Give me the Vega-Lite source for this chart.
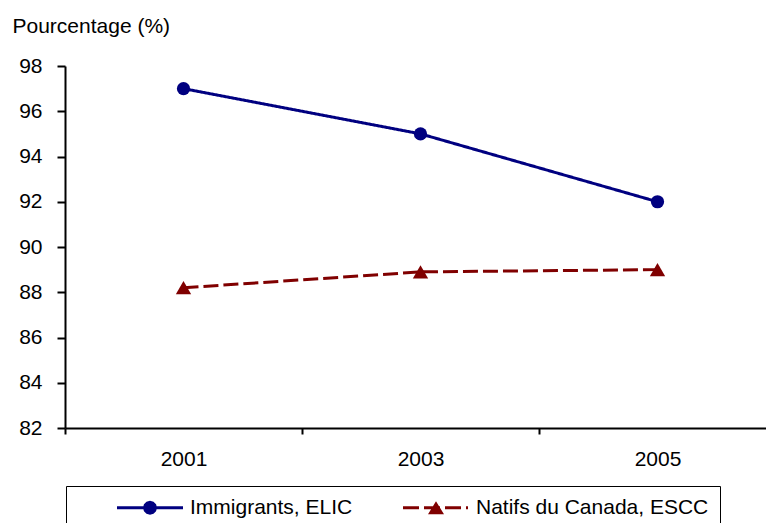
{
  "$schema": "https://vega.github.io/schema/vega-lite/v6.json",
  "width": 701,
  "height": 362,
  "autosize": {"type": "none"},
  "padding": {"left": 65, "top": 66, "right": 0, "bottom": 95},
  "background": "white",
  "config": {
    "view": {"stroke": null},
    "font": "Liberation Sans",
    "axis": {
      "domainColor": "black",
      "domainWidth": 2,
      "tickColor": "black",
      "tickWidth": 2,
      "grid": false,
      "labelFont": "Liberation Sans",
      "labelFontSize": 21,
      "labelColor": "black",
      "titleFont": "Liberation Sans",
      "titleFontSize": 21,
      "titleFontWeight": "normal",
      "titleColor": "black"
    }
  },
  "data": {
    "values": [
      {"year": "2001", "series": "Immigrants, ELIC", "pct": 97.0},
      {"year": "2003", "series": "Immigrants, ELIC", "pct": 95.0},
      {"year": "2005", "series": "Immigrants, ELIC", "pct": 92.0},
      {"year": "2001", "series": "Natifs du Canada, ESCC", "pct": 88.2},
      {"year": "2003", "series": "Natifs du Canada, ESCC", "pct": 88.9},
      {"year": "2005", "series": "Natifs du Canada, ESCC", "pct": 89.0}
    ]
  },
  "encoding": {
    "x": {
      "field": "year",
      "type": "ordinal",
      "scale": {"type": "band", "paddingInner": 0, "paddingOuter": 0, "range": [0, 711]},
      "axis": {
        "title": null,
        "labelAngle": 0,
        "tickBand": "extent",
        "tickSize": 6,
        "labelPadding": 14
      }
    },
    "y": {
      "field": "pct",
      "type": "quantitative",
      "scale": {"domain": [82, 98], "nice": false, "zero": false},
      "axis": {
        "values": [82, 84, 86, 88, 90, 92, 94, 96, 98],
        "tickSize": 8,
        "labelPadding": 15,
        "title": "Pourcentage (%)",
        "titleAngle": 0,
        "titleAlign": "left",
        "titleBaseline": "alphabetic",
        "titleX": -53,
        "titleY": -34
      }
    }
  },
  "layer": [
    {
      "mark": {"type": "line", "strokeWidth": 3},
      "encoding": {
        "color": {
          "field": "series",
          "type": "nominal",
          "scale": {"domain": ["Immigrants, ELIC", "Natifs du Canada, ESCC"], "range": ["#000080", "#800000"]},
          "legend": null
        },
        "strokeDash": {
          "field": "series",
          "type": "nominal",
          "scale": {"domain": ["Immigrants, ELIC", "Natifs du Canada, ESCC"], "range": [[1, 0], [15, 5]]},
          "legend": null
        }
      }
    },
    {
      "mark": {"type": "point", "filled": true, "opacity": 1},
      "encoding": {
        "color": {
          "field": "series",
          "type": "nominal",
          "scale": {"domain": ["Immigrants, ELIC", "Natifs du Canada, ESCC"], "range": ["#000080", "#800000"]},
          "legend": null
        },
        "shape": {
          "field": "series",
          "type": "nominal",
          "scale": {"domain": ["Immigrants, ELIC", "Natifs du Canada, ESCC"], "range": ["circle", "triangle-up"]},
          "legend": null
        },
        "size": {
          "field": "series",
          "type": "nominal",
          "scale": {"domain": ["Immigrants, ELIC", "Natifs du Canada, ESCC"], "range": [175, 235]},
          "legend": null
        }
      }
    },
    {
      "transform": [{"filter": "datum.pct < 0"}],
      "mark": {"type": "point", "filled": true, "opacity": 1},
      "encoding": {
        "fill": {
          "field": "series",
          "type": "nominal",
          "scale": {"domain": ["Immigrants, ELIC", "Natifs du Canada, ESCC"], "range": ["#000080", "#800000"]}
        },
        "shape": {
          "field": "series",
          "type": "nominal",
          "scale": {
            "domain": ["Immigrants, ELIC", "Natifs du Canada, ESCC"],
            "range": [
              "M-1.05,0M2.95,-0.15H9.55V0.15H2.95ZM6.95,0L6.856,0.35L6.6,0.606L6.25,0.7L5.9,0.606L5.644,0.35L5.55,0L5.644,-0.35L5.9,-0.606L6.25,-0.7L6.6,-0.606L6.856,-0.35Z",
              "M-1.05,0M2.95,-0.15H4.55V0.15H2.95ZM5.05,-0.15H6.65V0.15H5.05ZM7.15,-0.15H8.75V0.15H7.15ZM9.25,-0.15H9.45V0.15H9.25ZM6.25,-0.65L7.05,0.65L5.45,0.65Z"
            ]
          },
          "legend": {
            "title": null,
            "orient": "none",
            "legendX": 1,
            "legendY": 420,
            "direction": "horizontal",
            "padding": 11,
            "strokeColor": "black",
            "symbolSize": 400,
            "symbolStrokeWidth": 0,
            "symbolOpacity": 1,
            "labelOffset": 92,
            "columnPadding": 10,
            "labelFont": "Liberation Sans",
            "labelFontSize": 21,
            "labelColor": "black",
            "labelLimit": 0,
            "labelExpr": "datum.label == 'Natifs du Canada, ESCC' ? datum.label + '\u00a0\u00a0\u00a0\u00a0' : datum.label",
            "encode": {
              "legend": {"strokeWidth": {"value": 2}}
            }
          }
        }
      }
    }
  ],
  "resolve": {"scale": {"shape": "independent", "fill": "independent"}}
}
